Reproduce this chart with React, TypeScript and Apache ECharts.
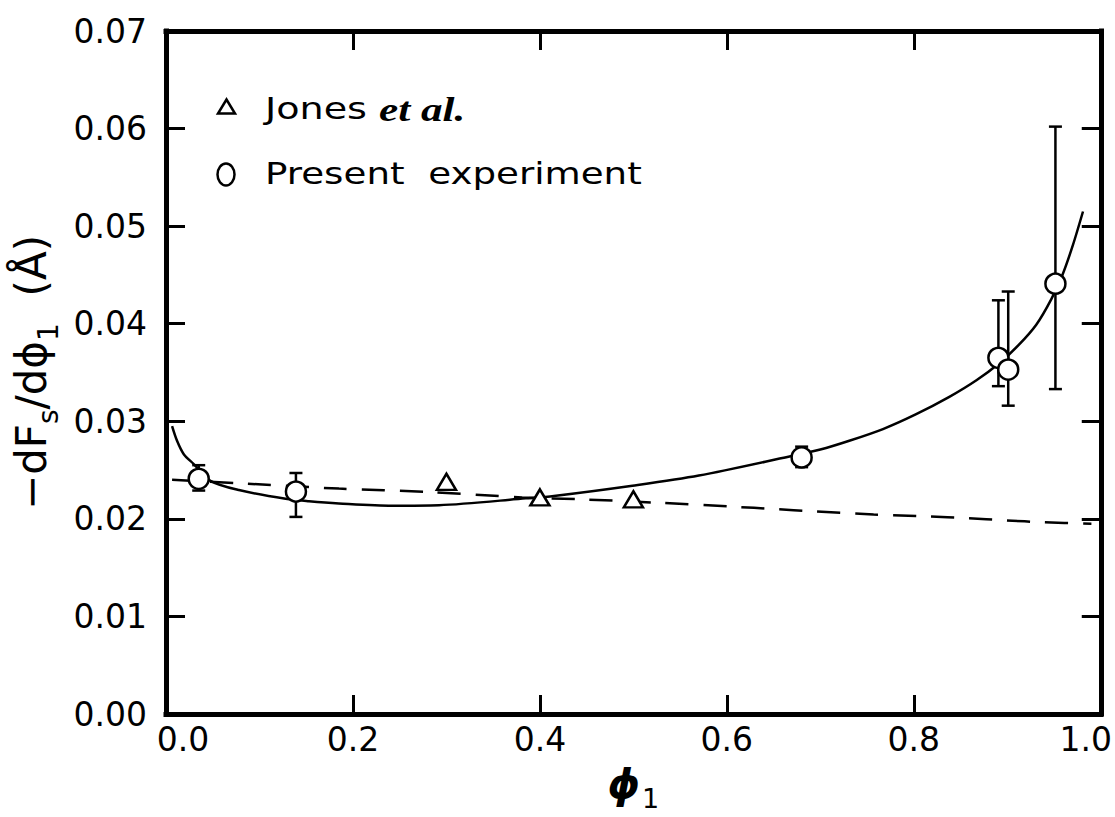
import React, { useEffect, useRef } from "react";
import * as echarts from "echarts";

// ---- data ----
const xTickValues = [0, 0.2, 0.4, 0.6, 0.8, 1.0];
const yTickValues = [0, 0.01, 0.02, 0.03, 0.04, 0.05, 0.06, 0.07];

// Jones et al. (triangles)
const jonesX = [0.3, 0.4, 0.5];
const jonesY = [0.0238, 0.0222, 0.022];

// Present experiment (circles with error bars)
const expX = [0.035, 0.139, 0.68, 0.8905, 0.901, 0.9515];
const expY = [0.0241, 0.0228, 0.0263, 0.0365, 0.0353, 0.0441];
const expLow = [0.0229, 0.0202, 0.0253, 0.0336, 0.0316, 0.0333];
const expHigh = [0.0255, 0.0247, 0.0274, 0.0424, 0.0433, 0.0602];

// solid fitted curve
const fitX = [0.0065, 0.0118, 0.019, 0.0297, 0.0475, 0.078, 0.128, 0.153, 0.185, 0.242, 0.292, 0.385, 0.415, 0.499, 0.57, 0.667, 0.7, 0.731, 0.767, 0.802, 0.838, 0.867, 0.892, 0.912, 0.931, 0.947, 0.959, 0.97, 0.981];
const fitY = [0.0295, 0.028, 0.02663, 0.02562, 0.0239, 0.02295, 0.02205, 0.0218, 0.02158, 0.02135, 0.0214, 0.0221, 0.02235, 0.0234, 0.02444, 0.0264, 0.0271, 0.028, 0.0292, 0.0307, 0.0325, 0.0342, 0.036, 0.0378, 0.0399, 0.0425, 0.045, 0.048, 0.0515];

// dashed curve
const dashX = [0.0065, 0.078, 0.185, 0.281, 0.381, 0.445, 0.527, 0.606, 0.652, 0.691, 0.757, 0.815, 0.857, 0.898, 0.939, 0.99];
const dashY = [0.024, 0.02365, 0.0231, 0.02275, 0.0222, 0.022, 0.02165, 0.02125, 0.021, 0.02078, 0.02045, 0.02025, 0.02007, 0.01985, 0.01965, 0.0195];

const FONT = "DejaVu Sans";

const makeTick = () => ({ show: true, inside: false, length: -19, lineStyle: { color: "#000", width: 3 } });
const makeLine = () => ({ show: true, onZero: false, lineStyle: { color: "#000", width: 5, cap: "square" } });

export default function App() {
  const ref = useRef<HTMLDivElement>(null);

  useEffect(() => {
    if (!ref.current) return;
    const chart = echarts.init(ref.current, null, { renderer: "svg" });

    const labelRich = {
      l: { fontSize: 33, fontFamily: FONT, color: "#000", padding: [0, 0, 0, 34] },
      r: { fontSize: 33, fontFamily: FONT, color: "#000", padding: [0, 30, 0, 0] },
      c: { fontSize: 33, fontFamily: FONT, color: "#000" },
    };

    const option: any = {
      animation: false,
      backgroundColor: "#fff",
      grid: { left: 166, right: 12, top: 31, bottom: 94, containLabel: false },
      xAxis: [
        {
          type: "value",
          min: xTickValues[0],
          max: xTickValues[xTickValues.length - 1],
          interval: 0.2,
          position: "bottom",
          axisLine: makeLine(),
          axisTick: makeTick(),
          splitLine: { show: false },
          axisLabel: {
            margin: 9,
            fontSize: 33,
            fontFamily: FONT,
            color: "#000",
            formatter: (v: number) => {
              if (Math.abs(v - xTickValues[0]) < 1e-9) return "{l|" + v.toFixed(1) + "}";
              if (Math.abs(v - xTickValues[xTickValues.length - 1]) < 1e-9) return "{r|" + v.toFixed(1) + "}";
              return "{c|" + v.toFixed(1) + "}";
            },
            rich: labelRich,
          },
          name: "{p|ϕ}{s|1}",
          nameLocation: "middle",
          nameGap: 49,
          nameTextStyle: {
            rich: {
              p: { fontSize: 41, fontFamily: FONT, fontWeight: "bold", fontStyle: "italic", color: "#000", padding: [0, 2, 8, 0], verticalAlign: "bottom" },
              s: { fontSize: 27, fontFamily: FONT, color: "#000", verticalAlign: "bottom" },
            },
          },
        },
        {
          type: "value",
          min: xTickValues[0],
          max: xTickValues[xTickValues.length - 1],
          interval: 0.2,
          position: "top",
          axisLine: makeLine(),
          axisTick: makeTick(),
          splitLine: { show: false },
          axisLabel: { show: false },
        },
      ],
      yAxis: [
        {
          type: "value",
          min: yTickValues[0],
          max: yTickValues[yTickValues.length - 1],
          interval: 0.01,
          position: "left",
          axisLine: makeLine(),
          axisTick: makeTick(),
          splitLine: { show: false },
          axisLabel: {
            margin: 19,
            fontSize: 33,
            fontFamily: FONT,
            color: "#000",
            formatter: (v: number) => v.toFixed(2),
          },
          name: "{m|−dF}{s|s}{m|/dϕ}{s|1}{m|  (Å)}",
          nameLocation: "middle",
          nameGap: 99,
          nameTextStyle: {
            rich: {
              m: { fontSize: 42, fontFamily: FONT, color: "#000", padding: [0, 0, 10, 0], verticalAlign: "bottom" },
              s: { fontSize: 28, fontFamily: FONT, color: "#000", verticalAlign: "bottom" },
            },
          },
        },
        {
          type: "value",
          min: yTickValues[0],
          max: yTickValues[yTickValues.length - 1],
          interval: 0.01,
          position: "right",
          axisLine: makeLine(),
          axisTick: makeTick(),
          splitLine: { show: false },
          axisLabel: { show: false },
        },
      ],
      graphic: [
        {
          type: "polygon",
          shape: { points: [[218, 113.5], [235, 113.5], [226.5, 99.5]] },
          style: { fill: "none", stroke: "#000", lineWidth: 2.5 },
          z: 10,
        },
        {
          type: "text",
          x: 265,
          y: 109,
          scaleX: 1.27,
          style: {
            text: "{n|Jones }{i|et al.}",
            align: "left",
            verticalAlign: "middle",
            fill: "#000",
            rich: {
              n: { fontSize: 30, fontFamily: FONT, fill: "#000", color: "#000" },
              i: { fontSize: 34, fontFamily: "Liberation Serif", fontStyle: "italic", fontWeight: "bold", fill: "#000", color: "#000" },
            },
          },
          z: 10,
        },
        {
          type: "ellipse",
          shape: { cx: 226, cy: 174.5, rx: 8.5, ry: 11 },
          style: { fill: "none", stroke: "#000", lineWidth: 2.5 },
          z: 10,
        },
        {
          type: "text",
          x: 265,
          y: 174,
          scaleX: 1.24,
          style: {
            text: "Present  experiment",
            font: "30px 'DejaVu Sans'",
            align: "left",
            verticalAlign: "middle",
            fill: "#000",
          },
          z: 10,
        },
      ],
      series: [
        {
          name: "fit",
          type: "line",
          data: fitX.map((x, i) => [x, fitY[i]]),
          smooth: 0.3,
          symbol: "none",
          lineStyle: { color: "#000", width: 2.5 },
          z: 2,
        },
        {
          name: "Jones fit",
          type: "line",
          data: dashX.map((x, i) => [x, dashY[i]]),
          smooth: 0.3,
          symbol: "none",
          lineStyle: { color: "#000", width: 2.5, type: [23, 15] },
          z: 2,
        },
        {
          name: "error",
          type: "custom",
          data: expX.map((x, i) => [x, expLow[i], expHigh[i]]),
          renderItem: (params: any, api: any) => {
            const x = api.value(0);
            const top = api.coord([x, api.value(2)]);
            const bot = api.coord([x, api.value(1)]);
            const hw = 6.5;
            const st = { stroke: "#000", lineWidth: 2.5 };
            return {
              type: "group",
              children: [
                { type: "line", shape: { x1: top[0], y1: top[1], x2: bot[0], y2: bot[1] }, style: st },
                { type: "line", shape: { x1: top[0] - hw, y1: top[1], x2: top[0] + hw, y2: top[1] }, style: st },
                { type: "line", shape: { x1: bot[0] - hw, y1: bot[1], x2: bot[0] + hw, y2: bot[1] }, style: st },
              ],
            };
          },
          z: 3,
        },
        {
          name: "Jones et al.",
          type: "scatter",
          data: jonesX.map((x, i) => [x, jonesY[i]]),
          symbol: "triangle",
          symbolSize: [19, 16],
          itemStyle: { color: "#fff", borderColor: "#000", borderWidth: 2.5, opacity: 1 },
          z: 4,
        },
        {
          name: "Present experiment",
          type: "scatter",
          data: expX.map((x, i) => [x, expY[i]]),
          symbol: "circle",
          symbolSize: 20,
          itemStyle: { color: "#fff", borderColor: "#000", borderWidth: 2.5, opacity: 1 },
          z: 4,
        },
      ],
    };

    chart.setOption(option);
    return () => chart.dispose();
  }, []);

  return (
    <div
      ref={ref}
      style={{ position: "absolute", left: 0, top: 0, width: 1115, height: 817, background: "#fff" }}
    />
  );
}
